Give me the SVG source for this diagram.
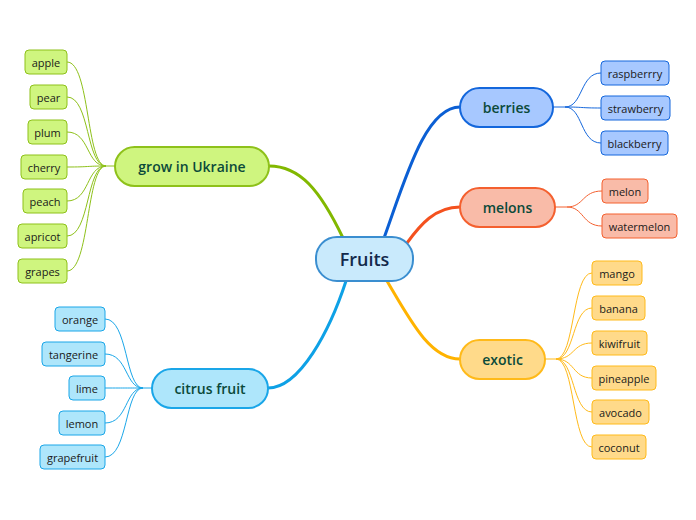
<svg xmlns="http://www.w3.org/2000/svg" width="696" height="520" viewBox="0 0 696 520">
<style>
text{font-family:"Open Sans","Noto Sans","DejaVu Sans",sans-serif;text-anchor:middle;dominant-baseline:central}
.leaf text{font-size:11px;fill:#1a1a1a}
.main text{font-size:14px;font-weight:600;fill:#0b4a3a}
.c{fill:none}
.g rect{fill:#cff57f;stroke:#8ec11a}
.b rect{fill:#a7c8ff;stroke:#1467dc}
.m rect{fill:#f9bba8;stroke:#f4602f}
.e rect{fill:#ffda8a;stroke:#ffba1a}
.t rect{fill:#aee6fb;stroke:#1aa6e8}
.leaf rect{stroke-width:1}
.main rect{stroke-width:2}
</style>
<g id="connectors" class="c">
<g stroke-width="3" fill="none">
<path d="M343 238 C320 190 300 166 269 166" stroke="#82b800"/>
<path d="M384 238 C405 180 425 107 460 107" stroke="#0b5fd4"/>
<path d="M407 243 C420 225 435 207 460 207" stroke="#f4511e"/>
<path d="M387 281 C410 320 430 359 460 359" stroke="#ffb300"/>
<path d="M346 281 C330 330 300 388 268 388" stroke="#0ea1e6"/>
</g>
<g stroke="#8ec11a" stroke-width="1" fill="none">
<path d="M115 166 H106"/>
<path d="M106 166 C86 166 90 62 67 62"/>
<path d="M106 166 C86 166 90 97 67 97"/>
<path d="M106 166 C86 166 90 132 67 132"/>
<path d="M106 166 C86 166 90 167 67 167"/>
<path d="M106 166 C86 166 90 201 67 201"/>
<path d="M106 166 C86 166 90 236 67 236"/>
<path d="M106 166 C86 166 90 271 67 271"/>
</g>
<g stroke="#1aa6e8" stroke-width="1" fill="none">
<path d="M152 388 H143"/>
<path d="M143 388 C125 388 128 319 105 319"/>
<path d="M143 388 C125 388 128 354 105 354"/>
<path d="M143 388 C125 388 128 388 105 388"/>
<path d="M143 388 C125 388 128 423 105 423"/>
<path d="M143 388 C125 388 128 457 105 457"/>
</g>
<g stroke="#1467dc" stroke-width="1" fill="none">
<path d="M553 107 H565"/>
<path d="M565 107 C583 107 580 73 601 73"/>
<path d="M565 107 C583 107 580 108 601 108"/>
<path d="M565 107 C583 107 580 143 601 143"/>
</g>
<g stroke="#f4602f" stroke-width="1" fill="none">
<path d="M555 207 H567"/>
<path d="M567 207 C584 207 582 191 602 191"/>
<path d="M567 207 C584 207 582 226 602 226"/>
</g>
<g stroke="#ffba1a" stroke-width="1" fill="none">
<path d="M545 359 H556"/>
<path d="M556 359 C575 359 572 273 592 273"/>
<path d="M556 359 C575 359 572 308 592 308"/>
<path d="M556 359 C575 359 572 343 592 343"/>
<path d="M556 359 C575 359 572 378 592 378"/>
<path d="M556 359 C575 359 572 412 592 412"/>
<path d="M556 359 C575 359 572 447 592 447"/>
</g>
</g>
<g id="fruits"><rect x="316" y="237" width="97" height="44" rx="21" fill="#c9eafc" stroke="#3a8ed0" stroke-width="2"/><text x="364.5" y="259" font-size="18" font-weight="600" fill="#13294b">Fruits</text></g>
<g id="grow" class="main g"><rect x="115" y="147" width="154" height="39" rx="19.5"/><text x="192" y="166.5">grow in Ukraine</text></g>
<g id="berries" class="main b"><rect x="460" y="88" width="93" height="39" rx="19.5"/><text x="506.5" y="107.5">berries</text></g>
<g id="melons" class="main m"><rect x="460" y="188" width="95" height="39" rx="19.5"/><text x="507.5" y="207.5">melons</text></g>
<g id="exotic" class="main e"><rect x="460" y="340" width="85" height="39" rx="19.5"/><text x="502.5" y="359.5">exotic</text></g>
<g id="citrus" class="main t"><rect x="152" y="369" width="116" height="39" rx="19.5"/><text x="210" y="388.5">citrus fruit</text></g>
<g id="apple" class="leaf g"><rect x="25" y="50" width="42" height="24" rx="4"/><text x="46" y="62">apple</text></g>
<g id="pear" class="leaf g"><rect x="30" y="85" width="37" height="24" rx="4"/><text x="48.5" y="97">pear</text></g>
<g id="plum" class="leaf g"><rect x="28" y="120" width="39" height="24" rx="4"/><text x="47.5" y="132">plum</text></g>
<g id="cherry" class="leaf g"><rect x="21" y="155" width="46" height="24" rx="4"/><text x="44" y="167">cherry</text></g>
<g id="peach" class="leaf g"><rect x="23" y="189" width="44" height="24" rx="4"/><text x="45" y="201">peach</text></g>
<g id="apricot" class="leaf g"><rect x="18" y="224" width="49" height="24" rx="4"/><text x="42.5" y="236">apricot</text></g>
<g id="grapes" class="leaf g"><rect x="18" y="259" width="49" height="24" rx="4"/><text x="42.5" y="271">grapes</text></g>
<g id="orange" class="leaf t"><rect x="55" y="307" width="50" height="24" rx="4"/><text x="80" y="319">orange</text></g>
<g id="tangerine" class="leaf t"><rect x="42" y="342" width="63" height="24" rx="4"/><text x="73.5" y="354">tangerine</text></g>
<g id="lime" class="leaf t"><rect x="69" y="376" width="36" height="24" rx="4"/><text x="87" y="388">lime</text></g>
<g id="lemon" class="leaf t"><rect x="59" y="411" width="46" height="24" rx="4"/><text x="82" y="423">lemon</text></g>
<g id="grapefruit" class="leaf t"><rect x="40" y="445" width="65" height="24" rx="4"/><text x="72.5" y="457">grapefruit</text></g>
<g id="raspberrry" class="leaf b"><rect x="601" y="61" width="68" height="24" rx="4"/><text x="635" y="73">raspberrry</text></g>
<g id="strawberry" class="leaf b"><rect x="601" y="96" width="69" height="24" rx="4"/><text x="635.5" y="108">strawberry</text></g>
<g id="blackberry" class="leaf b"><rect x="601" y="131" width="67" height="24" rx="4"/><text x="634.5" y="143">blackberry</text></g>
<g id="melon" class="leaf m"><rect x="602" y="179" width="46" height="24" rx="4"/><text x="625" y="191">melon</text></g>
<g id="watermelon" class="leaf m"><rect x="602" y="214" width="75" height="24" rx="4"/><text x="639.5" y="226">watermelon</text></g>
<g id="mango" class="leaf e"><rect x="592" y="261" width="50" height="24" rx="4"/><text x="617" y="273">mango</text></g>
<g id="banana" class="leaf e"><rect x="592" y="296" width="53" height="24" rx="4"/><text x="618.5" y="308">banana</text></g>
<g id="kiwifruit" class="leaf e"><rect x="592" y="331" width="55" height="24" rx="4"/><text x="619.5" y="343">kiwifruit</text></g>
<g id="pineapple" class="leaf e"><rect x="592" y="366" width="64" height="24" rx="4"/><text x="624" y="378">pineapple</text></g>
<g id="avocado" class="leaf e"><rect x="592" y="400" width="57" height="24" rx="4"/><text x="620.5" y="412">avocado</text></g>
<g id="coconut" class="leaf e"><rect x="592" y="435" width="54" height="24" rx="4"/><text x="619" y="447">coconut</text></g>
</svg>
